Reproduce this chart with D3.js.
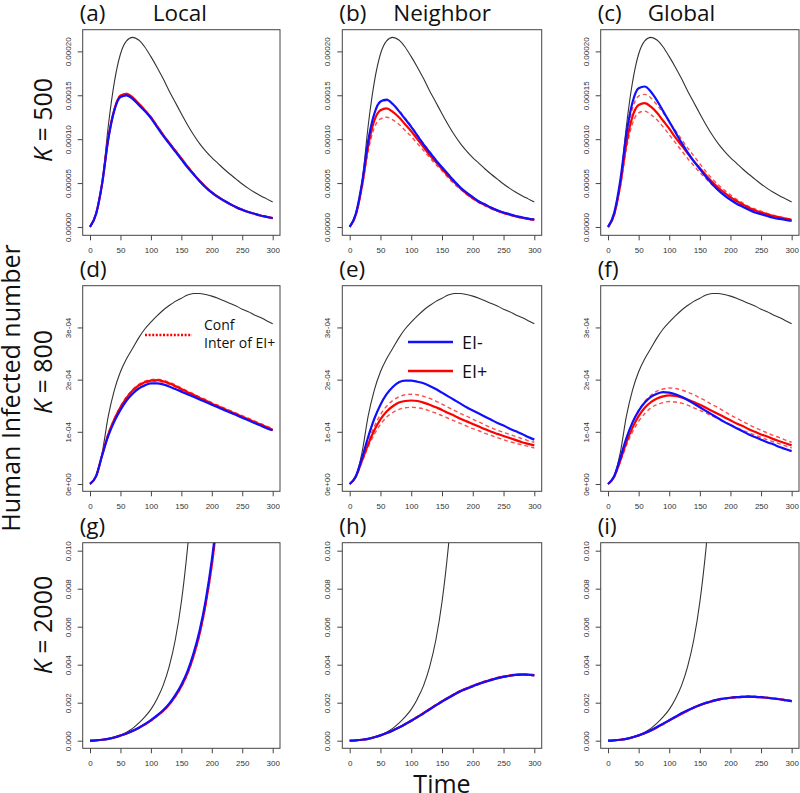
<!DOCTYPE html>
<html>
<head>
<meta charset="utf-8">
<script src="https://cdn.jsdelivr.net/npm/d3@7"></script>
<style>
body{margin:0;background:#fff;}
text{font-family:"Open Sans",sans-serif;fill:#111;}
.tick text{font-family:"Liberation Sans",Arial,sans-serif;fill:#333;}
</style>
</head>
<body>
<svg id="chart" width="800" height="793"></svg>
<script>
//time points of every series
const times = [0,10,20,30,40,50,60,70,80,90,100,110,120,130,140,150,160,170,180,190,200,210,220,230,240,250,260,270,280,290,300];
const xTicks = [0,50,100,150,200,250,300];

//y ticks for each row (row 1 in 1e-5, row 2 in 1e-4, row 3 in 1e-3)
const ticksK500 = [0,5,10,15,20];
const tickLabelsK500 = ["0.00000","0.00005","0.00010","0.00015","0.00020"];
const ticksK800 = [0,1,2,3];
const tickLabelsK800 = ["0e+00","1e-04","2e-04","3e-04"];
const ticksK2000 = [0,2,4,6,8,10];
const tickLabelsK2000 = ["0.000","0.002","0.004","0.006","0.008","0.010"];

const colTitles = ["Local","Neighbor","Global"];
const panelLetters = ["(a)","(b)","(c)","(d)","(e)","(f)","(g)","(h)","(i)"];
const kValues = ["500","800","2000"];

//black curves (same in each row)
const blackK500 = [0,1.5,5.0,11.5,16.5,19.7,21.2,21.6,21.3,20.5,19.4,18.2,16.9,15.5,14.2,12.9,11.65,10.5,9.5,8.65,7.9,7.25,6.6,6.0,5.45,4.9,4.4,3.95,3.55,3.2,2.85];
const blackK800 = [0,0.15,0.6,1.3,1.8,2.15,2.4,2.6,2.8,2.97,3.1,3.22,3.33,3.42,3.5,3.56,3.62,3.65,3.65,3.63,3.6,3.56,3.51,3.46,3.41,3.35,3.3,3.24,3.19,3.13,3.07];
const blackK2000 = [0,0.02,0.06,0.12,0.2,0.3,0.45,0.65,0.92,1.25,1.65,2.2,2.9,3.9,5.3,7.3,10.1,13.8];

//K = 500
const blueA = [0,1.5,5.0,10.0,13.3,14.8,15.0,14.6,13.9,13.2,12.4,11.4,10.4,9.5,8.6,7.7,6.8,6.0,5.2,4.5,3.9,3.4,3.0,2.6,2.25,1.95,1.7,1.5,1.3,1.15,1.0];
const redA = [0,1.5,5.0,10.1,13.4,14.95,15.15,14.75,14.05,13.3,12.5,11.5,10.5,9.6,8.7,7.8,6.9,6.05,5.25,4.55,3.95,3.45,3.0,2.6,2.25,1.95,1.7,1.5,1.3,1.15,1.0];
const redHiA = [0,1.5,5.0,10.1,13.45,15.0,15.2,14.8,14.1,13.35,12.55,11.55,10.55,9.65,8.75,7.85,6.95,6.1,5.3,4.6,4.0,3.5,3.05,2.65,2.3,2.0,1.72,1.52,1.32,1.17,1.02];
const redLoA = [0,1.5,5.0,10.0,13.35,14.9,15.1,14.7,14.0,13.25,12.45,11.45,10.45,9.55,8.65,7.75,6.85,6.0,5.2,4.5,3.9,3.4,2.95,2.55,2.2,1.9,1.68,1.48,1.28,1.13,0.98];

const blueB = [0,1.5,5.0,9.8,12.9,14.3,14.5,14.0,13.2,12.3,11.4,10.4,9.4,8.5,7.6,6.8,6.0,5.2,4.5,3.9,3.4,2.9,2.55,2.2,1.9,1.65,1.45,1.25,1.1,0.95,0.85];
const redB = [0,1.4,4.7,9.2,12.1,13.3,13.5,13.1,12.5,11.7,10.9,10.0,9.1,8.2,7.4,6.6,5.8,5.1,4.4,3.8,3.3,2.85,2.5,2.15,1.85,1.6,1.4,1.2,1.05,0.92,0.82];
const redHiB = [0,1.5,5.0,9.8,12.9,14.2,14.4,14.0,13.3,12.4,11.5,10.5,9.5,8.6,7.7,6.8,6.0,5.3,4.5,3.9,3.4,2.95,2.6,2.25,1.9,1.65,1.45,1.25,1.1,0.96,0.86];
const redLoB = [0,1.3,4.4,8.6,11.3,12.3,12.5,12.2,11.7,11.0,10.3,9.5,8.7,7.9,7.1,6.4,5.6,4.9,4.3,3.7,3.2,2.75,2.4,2.05,1.8,1.55,1.35,1.15,1.0,0.88,0.78];

const blueC = [0,1.6,5.3,10.6,14.2,15.8,16.0,15.4,14.4,13.2,12.0,10.8,9.6,8.5,7.5,6.6,5.7,4.9,4.2,3.6,3.1,2.65,2.3,1.95,1.65,1.45,1.25,1.05,0.92,0.8,0.7];
const redC = [0,1.4,4.8,9.5,12.6,13.9,14.1,13.7,13.0,12.1,11.2,10.2,9.3,8.4,7.5,6.7,5.9,5.15,4.5,3.9,3.4,2.95,2.55,2.2,1.9,1.65,1.45,1.25,1.1,0.95,0.82];
const redHiC = [0,1.5,5.1,10.1,13.5,14.9,15.1,14.7,13.9,13.0,12.0,11.0,10.0,9.0,8.1,7.2,6.3,5.5,4.8,4.2,3.65,3.15,2.75,2.35,2.05,1.8,1.55,1.35,1.18,1.02,0.88];
const redLoC = [0,1.3,4.5,8.9,11.8,13.0,13.2,12.8,12.2,11.4,10.5,9.6,8.7,7.8,7.0,6.2,5.5,4.8,4.2,3.65,3.15,2.75,2.4,2.05,1.78,1.55,1.35,1.17,1.02,0.89,0.77];

//K = 800
const blueD = [0,0.15,0.55,0.92,1.2,1.42,1.6,1.73,1.83,1.89,1.93,1.93,1.91,1.87,1.82,1.77,1.72,1.67,1.62,1.57,1.52,1.47,1.42,1.37,1.32,1.27,1.22,1.17,1.12,1.07,1.03];
const redD = [0,0.15,0.56,0.95,1.24,1.47,1.65,1.79,1.89,1.95,1.98,1.99,1.97,1.93,1.88,1.82,1.76,1.71,1.65,1.6,1.54,1.49,1.44,1.39,1.34,1.29,1.24,1.19,1.14,1.09,1.04];
const redHiD = [0,0.15,0.57,0.97,1.26,1.49,1.67,1.81,1.91,1.97,2.0,2.01,1.99,1.95,1.9,1.84,1.78,1.73,1.67,1.62,1.56,1.51,1.46,1.41,1.36,1.31,1.26,1.21,1.16,1.11,1.06];
const redLoD = [0,0.15,0.55,0.93,1.22,1.45,1.63,1.77,1.87,1.93,1.96,1.97,1.95,1.91,1.86,1.8,1.74,1.69,1.63,1.58,1.52,1.47,1.42,1.37,1.32,1.27,1.22,1.17,1.12,1.07,1.02];

const blueE = [0,0.15,0.5,0.9,1.25,1.52,1.72,1.86,1.95,1.98,1.98,1.96,1.93,1.88,1.82,1.75,1.68,1.61,1.54,1.47,1.41,1.35,1.29,1.23,1.17,1.12,1.06,1.01,0.96,0.9,0.85];
const redE = [0,0.14,0.45,0.76,1.03,1.24,1.39,1.49,1.56,1.59,1.6,1.59,1.56,1.52,1.47,1.42,1.36,1.31,1.25,1.2,1.15,1.1,1.05,1.0,0.96,0.92,0.88,0.84,0.8,0.77,0.74];
const redHiE = [0,0.15,0.48,0.81,1.1,1.33,1.49,1.6,1.67,1.71,1.72,1.71,1.68,1.64,1.59,1.53,1.47,1.41,1.35,1.3,1.24,1.19,1.13,1.08,1.03,0.99,0.95,0.91,0.87,0.83,0.8];
const redLoE = [0,0.13,0.42,0.71,0.95,1.14,1.28,1.37,1.43,1.46,1.47,1.46,1.44,1.4,1.36,1.31,1.26,1.21,1.16,1.11,1.06,1.02,0.97,0.93,0.89,0.85,0.81,0.78,0.75,0.72,0.69];

const blueF = [0,0.15,0.5,0.88,1.18,1.4,1.56,1.67,1.73,1.76,1.75,1.72,1.67,1.61,1.54,1.47,1.4,1.33,1.26,1.19,1.13,1.07,1.01,0.95,0.9,0.85,0.8,0.76,0.71,0.67,0.63];
const redF = [0,0.14,0.45,0.8,1.08,1.3,1.46,1.57,1.64,1.68,1.7,1.69,1.66,1.62,1.57,1.52,1.46,1.4,1.34,1.28,1.22,1.16,1.11,1.05,1.0,0.95,0.91,0.86,0.82,0.78,0.74];
const redHiF = [0,0.15,0.49,0.86,1.17,1.41,1.58,1.7,1.78,1.82,1.84,1.83,1.8,1.76,1.71,1.65,1.59,1.52,1.46,1.39,1.32,1.26,1.2,1.14,1.08,1.03,0.98,0.93,0.89,0.84,0.8];
const redLoF = [0,0.13,0.42,0.74,1.0,1.2,1.35,1.46,1.52,1.56,1.58,1.57,1.55,1.51,1.46,1.41,1.36,1.3,1.25,1.19,1.14,1.08,1.03,0.98,0.94,0.89,0.85,0.81,0.77,0.73,0.69];

//K = 2000
const blueG = [0,0.02,0.05,0.1,0.17,0.27,0.38,0.52,0.68,0.87,1.08,1.33,1.6,1.95,2.4,2.95,3.65,4.6,5.8,7.4,9.5,12.2];
const redG = [0,0.02,0.05,0.1,0.17,0.27,0.38,0.51,0.67,0.85,1.06,1.3,1.56,1.9,2.33,2.86,3.54,4.46,5.63,7.2,9.25,11.9];
const redHiG = [0,0.02,0.05,0.1,0.17,0.27,0.38,0.52,0.68,0.86,1.07,1.32,1.58,1.93,2.37,2.91,3.6,4.54,5.72,7.3,9.38,12.05];
const redLoG = [0,0.02,0.05,0.1,0.17,0.27,0.38,0.51,0.66,0.84,1.05,1.28,1.54,1.87,2.29,2.81,3.48,4.38,5.54,7.1,9.12,11.75];

const blueH = [0,0.02,0.05,0.1,0.18,0.28,0.4,0.54,0.7,0.87,1.05,1.24,1.44,1.65,1.86,2.06,2.25,2.43,2.6,2.74,2.87,2.99,3.1,3.2,3.29,3.36,3.42,3.46,3.48,3.47,3.44];
const redH = [0,0.02,0.05,0.1,0.18,0.28,0.4,0.54,0.7,0.87,1.05,1.25,1.45,1.66,1.87,2.07,2.26,2.44,2.61,2.75,2.88,3.0,3.11,3.21,3.3,3.37,3.43,3.47,3.49,3.48,3.45];
const redHiH = [0,0.02,0.05,0.1,0.18,0.29,0.41,0.55,0.72,0.89,1.08,1.28,1.48,1.69,1.9,2.1,2.29,2.47,2.64,2.78,2.91,3.03,3.14,3.24,3.33,3.4,3.46,3.5,3.52,3.51,3.48];
const redLoH = [0,0.02,0.05,0.1,0.17,0.27,0.39,0.53,0.68,0.85,1.02,1.21,1.41,1.62,1.83,2.03,2.22,2.4,2.57,2.71,2.84,2.96,3.07,3.17,3.26,3.33,3.39,3.43,3.45,3.44,3.41];

const blueI = [0,0.02,0.05,0.1,0.18,0.28,0.4,0.55,0.72,0.9,1.08,1.26,1.44,1.6,1.75,1.88,1.99,2.08,2.16,2.22,2.26,2.29,2.31,2.32,2.31,2.29,2.26,2.22,2.18,2.13,2.08];
const redI = [0,0.02,0.05,0.1,0.17,0.27,0.39,0.53,0.7,0.88,1.06,1.24,1.42,1.58,1.74,1.87,1.98,2.08,2.16,2.22,2.26,2.29,2.31,2.32,2.31,2.29,2.26,2.22,2.18,2.13,2.08];
const redHiI = [0,0.02,0.05,0.1,0.18,0.28,0.4,0.55,0.72,0.9,1.08,1.27,1.45,1.61,1.77,1.9,2.01,2.11,2.19,2.25,2.29,2.32,2.34,2.35,2.34,2.32,2.29,2.25,2.21,2.16,2.1];
const redLoI = [0,0.02,0.05,0.1,0.17,0.26,0.38,0.52,0.68,0.86,1.04,1.22,1.4,1.56,1.72,1.85,1.96,2.06,2.14,2.2,2.24,2.27,2.29,2.3,2.29,2.27,2.24,2.2,2.16,2.11,2.06];

//layout
let svg = d3.select("#chart");
let colLeft = [82.7, 342.3, 600.7],
	colWidth = [197.3, 199.4, 198.3],
	rowTop = [29.7, 285.7, 542.7],
	rowBottom = [235.3, 491.3, 748.3],
	rowDomain = [[-0.95, 22.47], [-0.14, 3.80], [-0.4, 10.42]],
	rowTicks = [ticksK500, ticksK800, ticksK2000],
	rowTickLabels = [tickLabelsK500, tickLabelsK800, tickLabelsK2000],
	rowBlack = [blackK500, blackK800, blackK2000];

let panels = [
	{blue: blueA, red: redA, hi: redHiA, lo: redLoA},
	{blue: blueB, red: redB, hi: redHiB, lo: redLoB},
	{blue: blueC, red: redC, hi: redHiC, lo: redLoC},
	{blue: blueD, red: redD, hi: redHiD, lo: redLoD},
	{blue: blueE, red: redE, hi: redHiE, lo: redLoE},
	{blue: blueF, red: redF, hi: redHiF, lo: redLoF},
	{blue: blueG, red: redG, hi: redHiG, lo: redLoG},
	{blue: blueH, red: redH, hi: redHiH, lo: redLoH},
	{blue: blueI, red: redI, hi: redHiI, lo: redLoI}
];

let defs = svg.append("defs");

function drawPanel(p, i){
	let r = Math.floor(i / 3), c = i % 3;
	let left = colLeft[c], w = colWidth[c], top = rowTop[r], bottom = rowBottom[r];

	let x = d3.scaleLinear().domain([-12, 312]).range([left, left + w]);
	let y = d3.scaleLinear().domain(rowDomain[r]).range([bottom, top]);

	defs.append("clipPath").attr("id", "clip" + i)
		.append("rect")
		.attr("x", left).attr("y", top)
		.attr("width", w).attr("height", bottom - top);

	let g = svg.append("g").attr("class", "panel");
	let plot = g.append("g").attr("clip-path", "url(#clip" + i + ")");

	let line = d3.line()
		.x(function(d, k){ return x(times[k]); })
		.y(function(d){ return y(d); })
		.curve(d3.curveMonotoneX);

	plot.append("path").datum(rowBlack[r])
		.attr("d", line).attr("fill", "none")
		.attr("stroke", "#333").attr("stroke-width", 1.1);

	[p.hi, p.lo].forEach(function(s){
		plot.append("path").datum(s)
			.attr("d", line).attr("fill", "none")
			.attr("stroke", "#ff4d4d").attr("stroke-width", 1.4)
			.attr("stroke-dasharray", "4,3");
	});

	plot.append("path").datum(p.red)
		.attr("d", line).attr("fill", "none")
		.attr("stroke", "#ff0000").attr("stroke-width", 2.2);

	plot.append("path").datum(p.blue)
		.attr("d", line).attr("fill", "none")
		.attr("stroke", "#1010ff").attr("stroke-width", 2.2);

	//x axis
	let xAxis = g.append("g")
		.attr("transform", "translate(0," + bottom + ")")
		.call(d3.axisBottom(x).tickValues(xTicks).tickSize(5).tickSizeOuter(0).tickPadding(7));
	xAxis.select(".domain").remove();
	xAxis.selectAll("line").attr("stroke", "#444");
	xAxis.selectAll("text").style("font-size", "8px");

	//y axis, labels turned like R
	let labels = rowTickLabels[r];
	let yAxis = g.append("g")
		.attr("transform", "translate(" + left + ",0)")
		.call(d3.axisLeft(y).tickValues(rowTicks[r]).tickSize(5).tickSizeOuter(0)
			.tickFormat(function(d, k){ return labels[k]; }));
	yAxis.select(".domain").remove();
	yAxis.selectAll("line").attr("stroke", "#444");
	yAxis.selectAll("text")
		.attr("x", 0).attr("y", 0).attr("dy", null)
		.attr("text-anchor", "middle")
		.attr("transform", "translate(-12,0) rotate(-90)")
		.style("font-size", "8px");

	//box
	g.append("rect")
		.attr("x", left).attr("y", top)
		.attr("width", w).attr("height", bottom - top)
		.attr("fill", "none").attr("stroke", "#444").attr("stroke-width", 1);

	//panel letter
	g.append("text")
		.attr("x", left - 3)
		.attr("y", top - 9)
		.style("font-size", "22.5px")
		.text(panelLetters[i]);

	if(r === 0){
		g.append("text")
			.attr("x", left + [70, 51, 47][c])
			.attr("y", top - 9)
			.style("font-size", "22.5px")
			.text(colTitles[c]);
	}
}

panels.forEach(drawPanel);

//row labels
kValues.forEach(function(k, r){
	let cy = [120, 372, 625][r];
	let t = svg.append("text")
		.attr("transform", "translate(52," + cy + ") rotate(-90)")
		.attr("text-anchor", "middle")
		.style("font-size", "25px");
	t.append("tspan").style("font-style", "italic").text("K");
	t.append("tspan").text(" = " + k);
});

svg.append("text")
	.attr("transform", "translate(20,388) rotate(-90)")
	.attr("text-anchor", "middle")
	.style("font-size", "25px")
	.text("Human Infected number");

svg.append("text")
	.attr("x", 442).attr("y", 793)
	.attr("text-anchor", "middle")
	.style("font-size", "25px")
	.text("Time");

//legend in (d)
svg.append("line")
	.attr("x1", 145).attr("x2", 192).attr("y1", 335).attr("y2", 335)
	.attr("stroke", "#ff0000").attr("stroke-width", 2.4)
	.attr("stroke-dasharray", "2,1.6");
svg.append("text").attr("x", 204).attr("y", 330).style("font-size", "14px").text("Conf");
svg.append("text").attr("x", 204).attr("y", 348).style("font-size", "14px").text("Inter of EI+");

//legend in (e)
svg.append("line")
	.attr("x1", 408).attr("x2", 453).attr("y1", 342).attr("y2", 342)
	.attr("stroke", "#1010ff").attr("stroke-width", 2.4);
svg.append("text").attr("x", 462).attr("y", 349).style("font-size", "18px").text("EI-");
svg.append("line")
	.attr("x1", 408).attr("x2", 453).attr("y1", 371).attr("y2", 371)
	.attr("stroke", "#ff0000").attr("stroke-width", 2.4);
svg.append("text").attr("x", 462).attr("y", 378).style("font-size", "18px").text("EI+");
</script>
</body>
</html>
